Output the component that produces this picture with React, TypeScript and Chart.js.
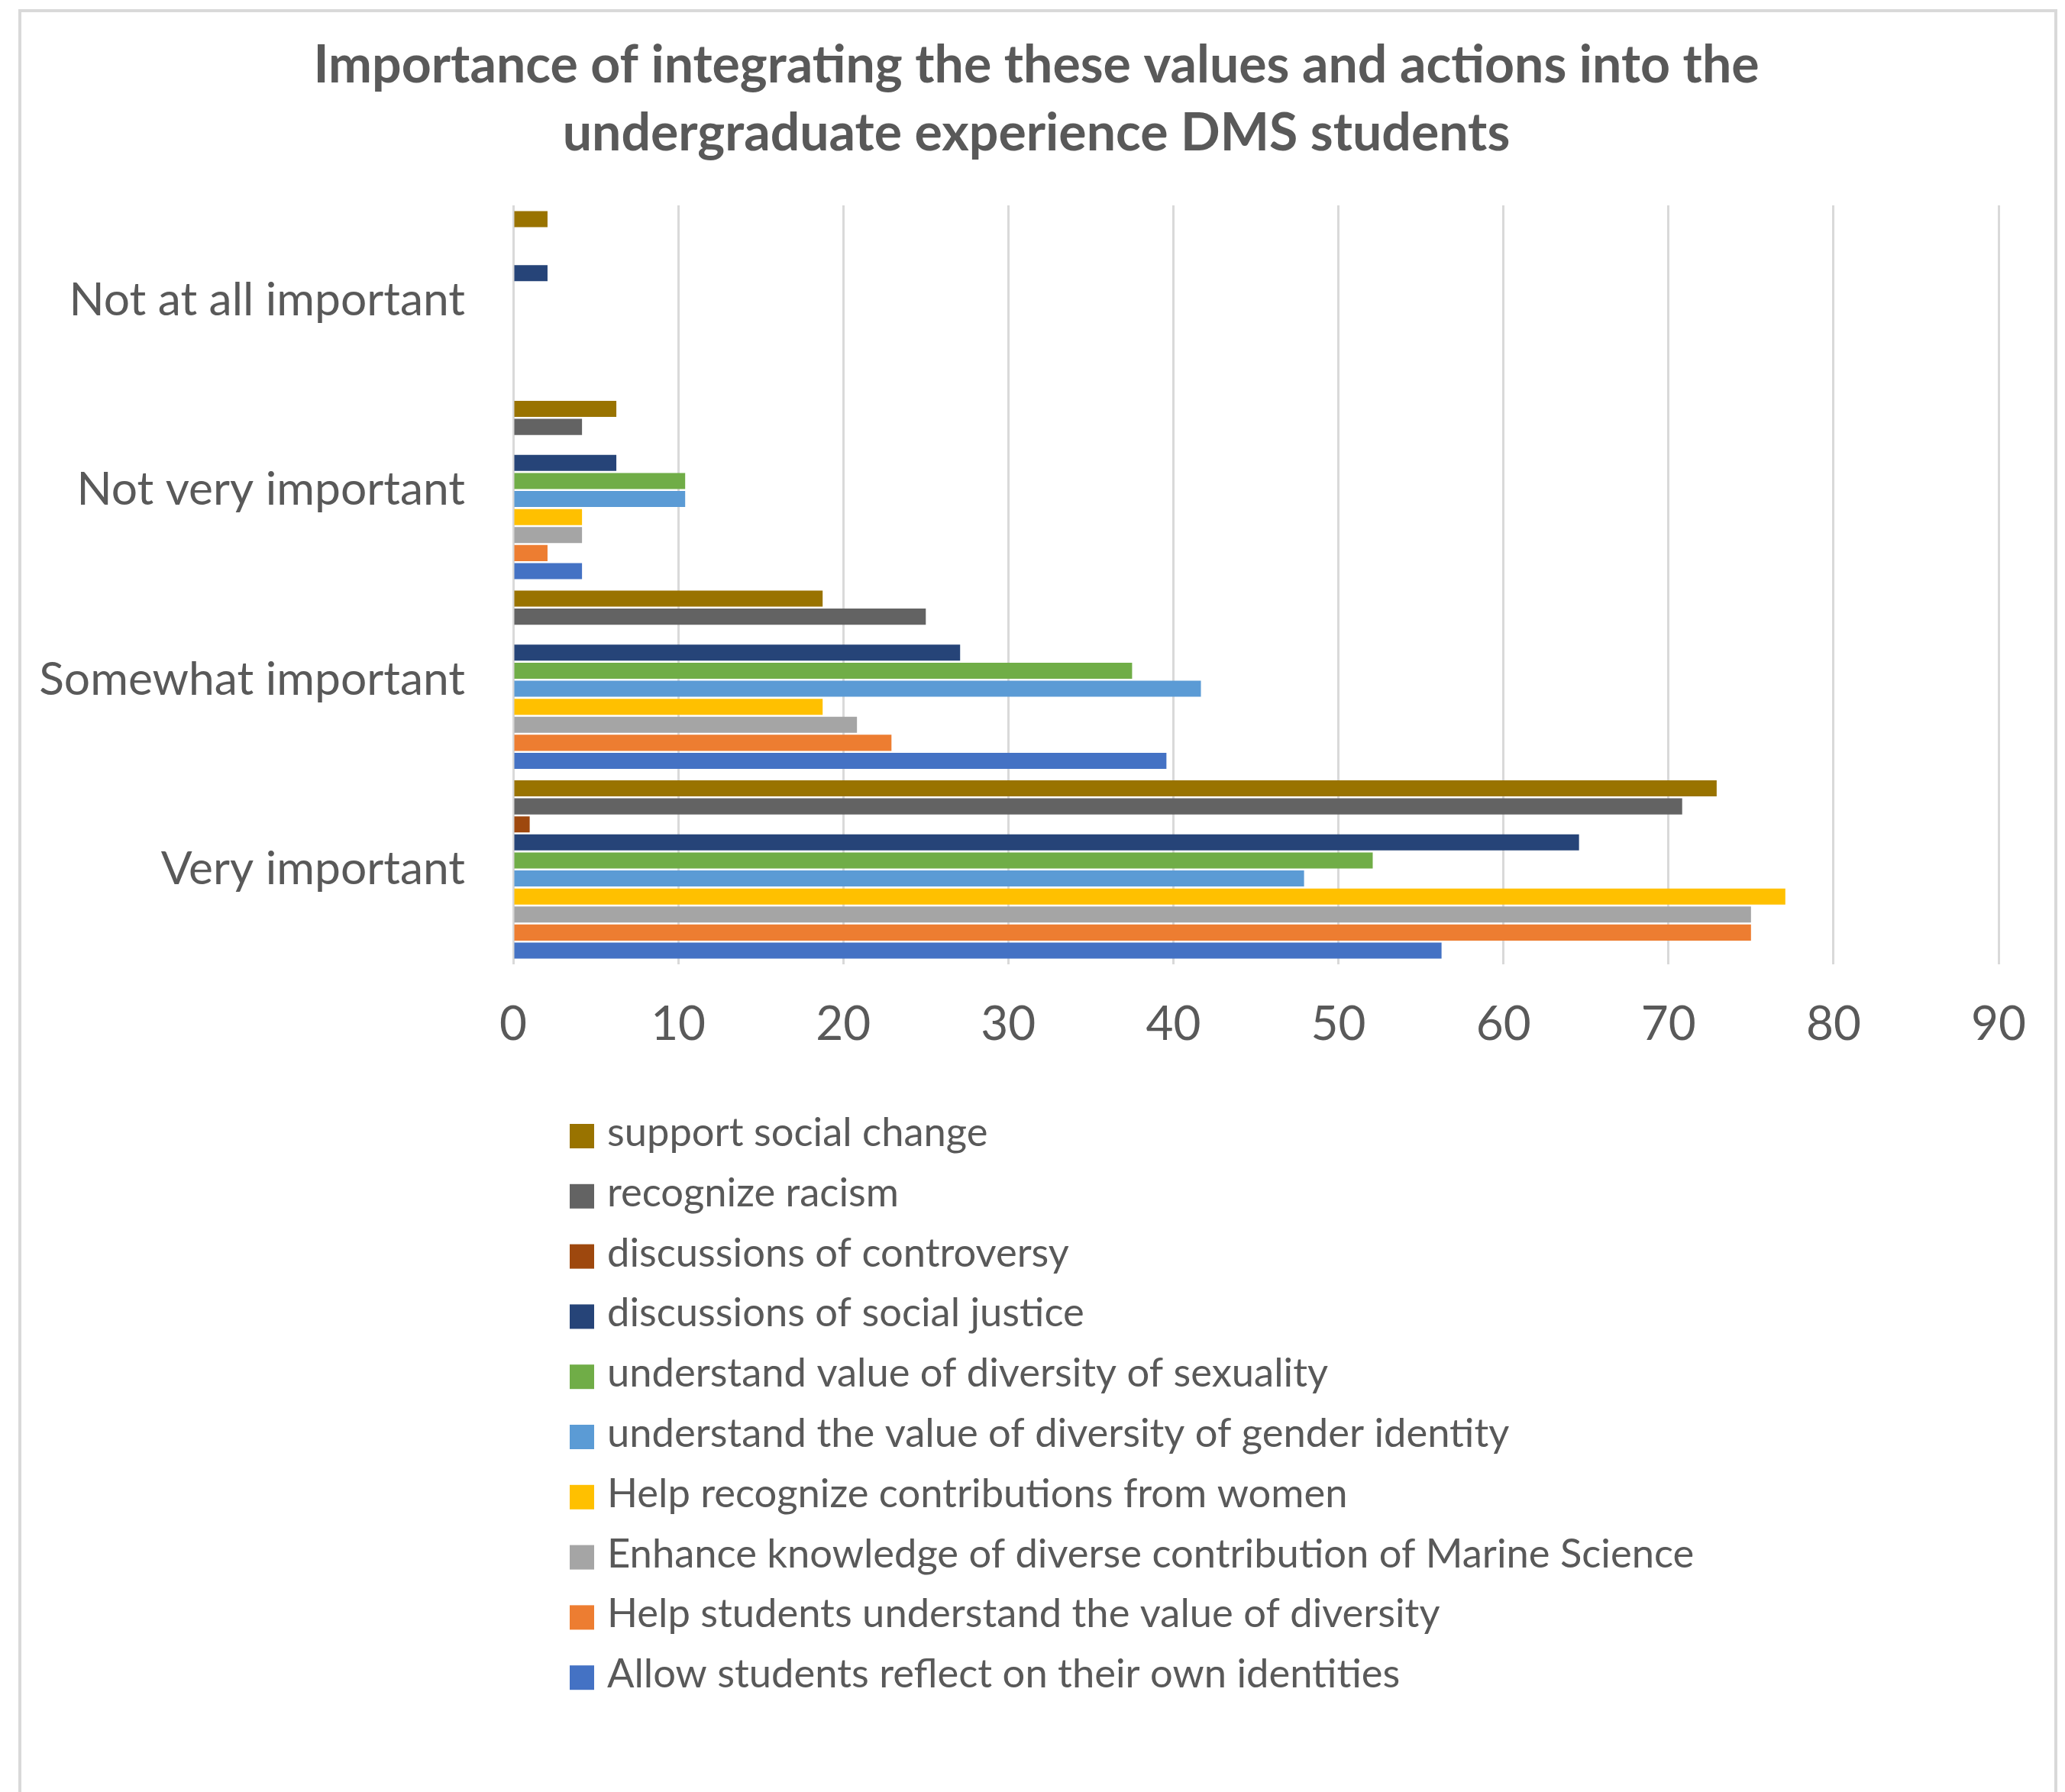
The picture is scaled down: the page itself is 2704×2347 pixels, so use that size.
import React, { useEffect, useRef } from "react";
import { Chart, registerables } from "chart.js";

Chart.register(...registerables);

const categories = ["Not at all important", "Not very important", "Somewhat important", "Very important"];

const supportSocialChange = [2.08, 6.25, 18.75, 72.92];
const recognizeRacism = [0, 4.17, 25.0, 70.83];
const discussionsControversy = [0, 0, 0, 1.0];
const discussionsSocialJustice = [2.08, 6.25, 27.08, 64.58];
const diversitySexuality = [0, 10.42, 37.5, 52.08];
const diversityGender = [0, 10.42, 41.67, 47.92];
const contributionsWomen = [0, 4.17, 18.75, 77.08];
const marineScience = [0, 4.17, 20.83, 75.0];
const valueDiversity = [0, 2.08, 22.92, 75.0];
const ownIdentities = [0, 4.17, 39.58, 56.25];

const seriesLabels = [
  "support social change",
  "recognize racism",
  "discussions of controversy",
  "discussions of social justice",
  "understand value of diversity of sexuality",
  "understand the value of diversity of gender identity",
  "Help recognize contributions from women",
  "Enhance knowledge of diverse contribution of Marine Science",
  "Help students understand the value of diversity",
  "Allow students reflect on their own identities",
];
const seriesValues = [
  supportSocialChange,
  recognizeRacism,
  discussionsControversy,
  discussionsSocialJustice,
  diversitySexuality,
  diversityGender,
  contributionsWomen,
  marineScience,
  valueDiversity,
  ownIdentities,
];
const seriesColors = [
  "#997300",
  "#636363",
  "#9E480E",
  "#264478",
  "#70AD47",
  "#5B9BD5",
  "#FFC000",
  "#A5A5A5",
  "#ED7D31",
  "#4472C4",
];

const titleLines = [
  "Importance of integrating the these values and actions into the",
  "undergraduate experience DMS students",
];

const TEXT = "#595959";
const FONT = "Lato";

// Title centred on the bordered chart frame (Excel-style), drawn in the reserved top padding.
const frameTitle = {
  id: "frameTitle",
  afterDraw(chart: any) {
    const { ctx } = chart;
    ctx.save();
    ctx.font = `bold 68px ${FONT}`;
    ctx.fillStyle = TEXT;
    ctx.textAlign = "center";
    ctx.textBaseline = "middle";
    titleLines.forEach((line, i) => {
      ctx.fillText(line, 1357, 86 + i * 89);
    });
    ctx.restore();
  },
};

const verticalLegend = {
  id: "verticalLegend",
  afterDraw(chart: any) {
    const { ctx, chartArea } = chart;
    ctx.save();
    ctx.font = `52.5px ${FONT}`;
    chart.data.datasets.forEach((ds: any, i: number) => {
      const cy = chartArea.bottom + 225 + i * 78.8;
      ctx.fillStyle = ds.backgroundColor;
      ctx.fillRect(chartArea.left + 74, cy - 16, 32, 32);
      ctx.fillStyle = TEXT;
      ctx.textBaseline = "alphabetic";
      ctx.textAlign = "left";
      ctx.fillText(ds.label, chartArea.left + 123, cy + 13);
    });
    ctx.restore();
  },
};

export default function App() {
  const ref = useRef<HTMLCanvasElement | null>(null);

  useEffect(() => {
    if (!ref.current) return;
    const chart = new Chart(ref.current, {
      type: "bar",
      data: {
        labels: categories,
        datasets: seriesLabels.map((label, i) => ({
          label,
          data: seriesValues[i],
          backgroundColor: seriesColors[i],
          borderWidth: 0,
          categoryPercentage: 0.95,
          barPercentage: 0.89,
        })),
      },
      options: {
        indexAxis: "y",
        responsive: false,
        animation: false,
        devicePixelRatio: 1,
        layout: { padding: { left: 0, right: 87, top: 269, bottom: 934 } },
        plugins: {
          legend: { display: false },
          tooltip: { enabled: false },
          title: { display: false },
        },
        scales: {
          x: {
            min: 0,
            max: 90,
            ticks: {
              stepSize: 10,
              color: TEXT,
              font: { family: FONT, size: 62 },
              padding: 42,
              maxRotation: 0,
            },
            grid: { color: "#D9D9D9", lineWidth: 3, drawTicks: false },
            border: { display: false },
            afterFit: (scale: any) => {
              scale.height = 150;
            },
          },
          y: {
            ticks: {
              color: TEXT,
              font: { family: FONT, size: 60.5 },
              padding: 63,
            },
            grid: { display: false, drawTicks: false },
            border: { display: false },
            afterFit: (scale: any) => {
              scale.width = 672;
            },
          },
        },
      },
      plugins: [frameTitle, verticalLegend],
    });
    return () => chart.destroy();
  }, []);

  return (
    <div
      style={{
        position: "absolute",
        left: 0,
        top: 0,
        width: 2704,
        height: 2347,
        overflow: "hidden",
        background: "#fff",
      }}
    >
      <div
        style={{
          position: "absolute",
          left: 24,
          top: 12,
          width: 2670,
          height: 2500,
          border: "4px solid #D9D9D9",
          boxSizing: "border-box",
        }}
      />
      <canvas
        ref={ref}
        width={2704}
        height={2347}
        style={{ position: "absolute", left: 0, top: 0, width: 2704, height: 2347 }}
      />
    </div>
  );
}
